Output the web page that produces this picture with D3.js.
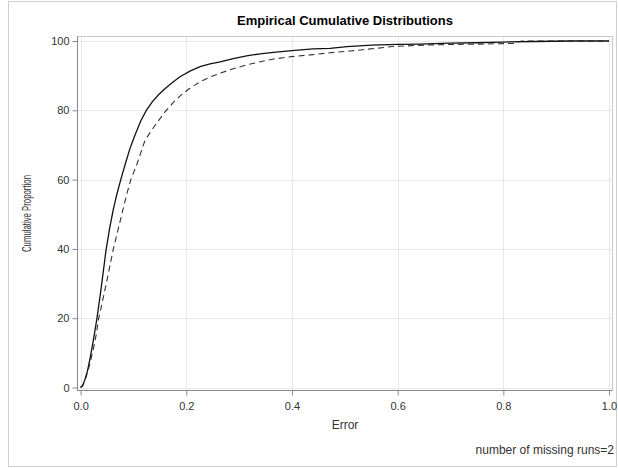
<!DOCTYPE html>
<html><head><meta charset="utf-8">
<script src="https://cdn.jsdelivr.net/npm/d3@7"></script>
<style>body{margin:0;background:#fff;}svg{display:block;font-family:"Liberation Sans",Arial,sans-serif;}</style>
</head><body><svg id="c" width="618" height="468"></svg>
<script>
const solidErr = [0,0.004,0.008,0.013,0.018,0.024,0.031,0.037,0.043,0.048,0.055,0.062,0.069,0.076,0.084,0.093,0.103,0.114,0.125,0.136,0.147,0.160,0.175,0.188,0.207,0.226,0.245,0.264,0.289,0.314,0.340,0.365,0.40,0.44,0.472,0.504,0.551,0.60,0.642,0.699,0.75,0.797,0.86,0.926,1.0];
const solidPct = [0,0.6,2.2,4.8,8.5,13.5,20,26.5,33.5,39.5,46,51.5,56,60,64.2,68.8,72.9,77,80.1,82.5,84.4,86.3,88.2,89.7,91.3,92.6,93.4,94.0,94.9,95.7,96.3,96.7,97.2,97.7,97.9,98.4,98.8,99.0,99.1,99.4,99.5,99.7,99.85,100,100];
const dashErr = [0,0.004,0.008,0.013,0.018,0.024,0.030,0.0335,0.038,0.043,0.050,0.056,0.062,0.070,0.078,0.086,0.095,0.106,0.122,0.141,0.160,0.175,0.191,0.208,0.226,0.245,0.264,0.289,0.314,0.340,0.365,0.40,0.435,0.472,0.51,0.56,0.59,0.648,0.70,0.756,0.818,0.835,1.0];
const dashPct = [0,0.5,2,4.3,7.2,11,15.6,19.5,22.5,26,31,35.5,40,45,50,55,60,64.2,71.4,75.7,79.6,82.2,84.5,86.5,88.2,89.6,90.7,92,93.1,94,94.8,95.5,96,96.6,97.1,97.9,98.4,98.8,99.0,99.1,99.3,100,100];
const xTicks = [0,0.2,0.4,0.6,0.8,1.0];
const yTicks = [0,20,40,60,80,100];
const title = "Empirical Cumulative Distributions";
const xLabel = "Error";
const yLabel = "Cumulative Proportion";
const note = "number of missing runs=2";

const svg = d3.select("#c");
const x = d3.scaleLinear().domain([0,1]).range([80.6,609]);
const y = d3.scaleLinear().domain([0,100]).range([387.5,41]);
const L=77.5, R=612.5, T=36.5, B=390.5;

svg.append("rect").attr("x",8.5).attr("y",1.5).attr("width",608).attr("height",465)
  .attr("fill","none").attr("stroke","#cfcfcf");

// grid
svg.append("g").selectAll("line").data(xTicks).join("line")
  .attr("x1",d=>Math.round(x(d))+0.5).attr("x2",d=>Math.round(x(d))+0.5).attr("y1",T).attr("y2",B)
  .attr("stroke","#e8e8e8");
svg.append("g").selectAll("line").data(yTicks).join("line")
  .attr("y1",d=>Math.round(y(d))+0.5).attr("y2",d=>Math.round(y(d))+0.5).attr("x1",L).attr("x2",R)
  .attr("stroke","#e8e8e8");

// frame
svg.append("rect").attr("x",L).attr("y",T).attr("width",R-L).attr("height",B-T)
  .attr("fill","none").attr("stroke","#c8c8c8");

// axes
const xAxis = svg.append("g").attr("transform",`translate(0,${B})`)
  .call(d3.axisBottom(x).tickValues(xTicks).tickFormat(d3.format(".1f")).tickSize(5).tickSizeOuter(0));
const yAxis = svg.append("g").attr("transform",`translate(${L},0)`)
  .call(d3.axisLeft(y).tickValues(yTicks).tickFormat(d3.format("d")).tickSize(5).tickSizeOuter(0));
[xAxis,yAxis].forEach(a=>{
  a.select(".domain").remove();
  a.selectAll(".tick line").attr("stroke","#888");
  a.selectAll("text").attr("fill","#333").style("font-size","11px").style("font-family","'Liberation Sans',Arial,sans-serif");
});
xAxis.selectAll("text").attr("dy","1.05em");
yAxis.selectAll("text").attr("x",-8);
svg.append("line").attr("x1",L).attr("x2",L).attr("y1",T).attr("y2",B+0.5).attr("stroke","#888");
svg.append("line").attr("x1",L).attr("x2",R).attr("y1",B).attr("y2",B).attr("stroke","#888");

// lines
const line = d3.line().x(d=>x(d[0])).y(d=>y(d[1]));
svg.append("path").datum(dashErr.map((v,i)=>[v,dashPct[i]])).attr("d",line)
  .attr("fill","none").attr("stroke","#333").attr("stroke-width",1.1).attr("stroke-dasharray","6,4");
svg.append("path").datum(solidErr.map((v,i)=>[v,solidPct[i]])).attr("d",line)
  .attr("fill","none").attr("stroke","#111").attr("stroke-width",1.3);

// texts
svg.append("text").attr("x",(L+R)/2).attr("y",25).attr("text-anchor","middle")
  .style("font-size","13px").style("font-weight","bold").attr("fill","#000").text(title);
svg.append("text").attr("x",(L+R)/2).attr("y",429).attr("text-anchor","middle")
  .style("font-size","12px").attr("fill","#333").text(xLabel);
svg.append("text").attr("transform",`translate(31,${(T+B)/2}) rotate(-90)`).attr("text-anchor","middle")
  .style("font-size","13px").attr("fill","#333").attr("textLength",77).attr("lengthAdjust","spacingAndGlyphs").text(yLabel);
svg.append("text").attr("x",614).attr("y",454).attr("text-anchor","end")
  .style("font-size","12px").attr("fill","#333").text(note);
</script></body></html>
